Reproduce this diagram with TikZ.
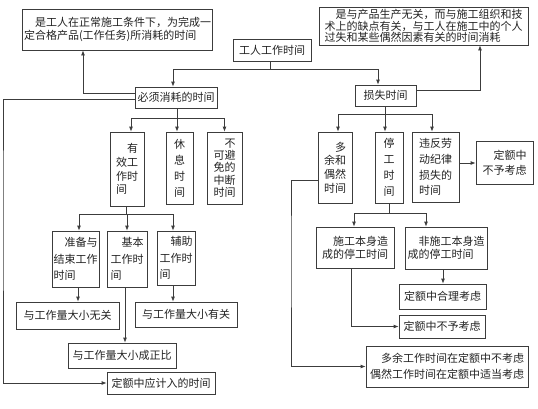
\documentclass[tikz,border=0pt]{standalone}
\usepackage{fontspec}
\setmainfont{Noto Sans CJK SC}
\usetikzlibrary{arrows.meta}
\definecolor{linec}{HTML}{3C3C3C}
\definecolor{txtc}{HTML}{222222}
\begin{document}
\begin{tikzpicture}[x=1pt,y=-1pt,
  box/.style={draw=linec, line width=0.8pt, inner sep=1.5pt, align=left, text=txtc, font=\fontsize{11}{13}\selectfont},
  conn/.style={draw=linec, line width=0.8pt},
  arr/.style={conn, -{Latex[length=5pt,width=4pt]}},
]
\useasboundingbox (0,0) rectangle (538,408);
% top level
\node[box, minimum width=78, minimum height=22] (work) at (272,50) {工人工作时间};
\node[box, minimum width=189, minimum height=41] (descA) at (117.5,29.5) {　是工人在正常施工条件下，为完成一\\定合格产品(工作任务)所消耗的时间};
\node[box, minimum width=209, minimum height=38, font=\fontsize{11}{11.5}\selectfont] (descB) at (423.5,26) {　是与产品生产无关，而与施工组织和技\\术上的缺点有关，与工人在施工中的个人\\过失和某些偶然因素有关的时间消耗};
\node[box, minimum width=82, minimum height=21] (need) at (176,97.5) {必须消耗的时间};
\node[box, minimum width=61, minimum height=21] (loss) at (385.5,95.5) {损失时间};
% left branch
\node[box, minimum width=34, minimum height=74, font=\fontsize{11}{13.7}\selectfont] (eff) at (127,169) {　有\\效工\\作时\\间};
\node[box, minimum width=27, minimum height=72, font=\fontsize{11}{16}\selectfont] (rest) at (179.5,168) {休\\息\\时\\间};
\node[box, minimum width=35, minimum height=72, font=\fontsize{11}{12.3}\selectfont] (unav) at (224.5,168) {　不\\可避\\免的\\中断\\时间};
\node[box, minimum width=47, minimum height=56, font=\fontsize{11}{16.5}\selectfont] (prep) at (75.5,259) {　准备与\\结束工作\\时间};
\node[box, minimum width=40, minimum height=56, font=\fontsize{11}{16.5}\selectfont] (basic) at (127,259) {　基本\\工作时\\间};
\node[box, minimum width=38, minimum height=54, font=\fontsize{11}{16.5}\selectfont] (aux) at (176,258) {　辅助\\工作时\\间};
\node[box, minimum width=103, minimum height=27] (irr) at (67.5,315.5) {与工作量大小无关};
\node[box, minimum width=102, minimum height=25] (rel) at (186,314.5) {与工作量大小有关};
\node[box, minimum width=108, minimum height=25] (prop) at (122,355.5) {与工作量大小成正比};
\node[box, minimum width=108, minimum height=22] (total) at (161,383) {定额中应计入的时间};
% right branch
\node[box, minimum width=34, minimum height=71, font=\fontsize{11}{13.7}\selectfont] (surp) at (335,167.5) {　多\\余和\\偶然\\时间};
\node[box, minimum width=28, minimum height=71, font=\fontsize{11}{16}\selectfont] (stop) at (389,167.5) {停\\工\\时\\间};
\node[box, minimum width=47, minimum height=70, font=\fontsize{11}{15.7}\selectfont] (viol) at (435.5,167) {违反劳\\动纪律\\损失的\\时间};
\node[box, minimum width=57, minimum height=43, font=\fontsize{11}{15}\selectfont] (noc1) at (504.5,162.5) {　定额中\\不予考虑};
\node[box, minimum width=78, minimum height=41] (own) at (355,247.5) {　施工本身造\\成的停工时间};
\node[box, minimum width=82, minimum height=42] (nonown) at (446,248) {　非施工本身造\\成的停工时间};
\node[box, minimum width=87, minimum height=25] (reason) at (442.5,296.5) {定额中合理考虑};
\node[box, minimum width=86, minimum height=23] (noc2) at (442,326.5) {定额中不予考虑};
\node[box, minimum width=162, minimum height=41, font=\fontsize{11}{16}\selectfont] (surpnote) at (447,366.5) {　多余工作时间在定额中不考虑\\偶然工作时间在定额中适当考虑};
% connectors: top
\draw[conn] ([xshift=-2pt]work.south) -- ++(0,8) coordinate (j1);
\draw[arr] (j1) -| ([xshift=-3pt]need.north);
\draw[arr] (j1) -| ([xshift=-7.5pt]loss.north);
\draw[arr] ([yshift=4.5pt]need.west) -| ([xshift=-34.5pt]descA.south);
\coordinate (lrail) at (3,200);
\draw[arr] ([yshift=-1.5pt]need.west) -| (lrail) |- (total.west);
\draw[conn] ([xshift=1pt]need.south) -- ++(0,9.5) coordinate (j2);
\draw[arr] (j2) -| ([xshift=4pt]eff.north);
\draw[arr] (j2) -| ([xshift=-2.5pt]rest.north);
\draw[arr] (j2) -| (unav.north);
\draw[conn] ([xshift=-1pt]eff.south) -- ++(0,8) coordinate (j3);
\draw[arr] (j3) -| ([xshift=3.5pt]prep.north);
\draw[arr] (j3) -| (basic.north);
\draw[arr] (j3) -| ([xshift=-3pt]aux.north);
\draw[arr] ([xshift=2.5pt]prep.south) -- ([xshift=2.5pt]prep.south |- irr.north);
\draw[arr] ([xshift=-3pt]aux.south) -- ([xshift=-3pt]aux.south |- rel.north);
\draw[arr] ([xshift=-2pt]basic.south) -- ([xshift=-2pt]basic.south |- prop.north);
% connectors: right
\draw[arr] ([yshift=5.5pt]loss.east) -| ([xshift=56.5pt]descB.south);
\draw[conn] (loss.south) -- ++(0,8) coordinate (j4);
\draw[arr] (j4) -| ([xshift=3pt]surp.north);
\draw[arr] (j4) -| ([xshift=-4pt]stop.north);
\draw[arr] (j4) -| ([xshift=-3.5pt]viol.north);
\draw[arr] ([yshift=4pt]viol.east) -- ([yshift=4pt]viol.east -| noc1.west);
\coordinate (rrail) at (291,250);
\draw[arr] ([yshift=-12.5pt]surp.west) -| (rrail) |- (surpnote.west);
\draw[conn] (stop.south) -- ++(0,10) coordinate (j5);
\draw[arr] (j5) -| ([xshift=-1pt]own.north);
\draw[arr] (j5) -| ([xshift=-20pt]nonown.north);
\draw[arr] ([xshift=-3pt]nonown.south) -- ([xshift=-3pt]nonown.south |- reason.north);
\draw[arr] ([xshift=-4pt]own.south) |- (noc2.west);
\end{tikzpicture}
\end{document}
